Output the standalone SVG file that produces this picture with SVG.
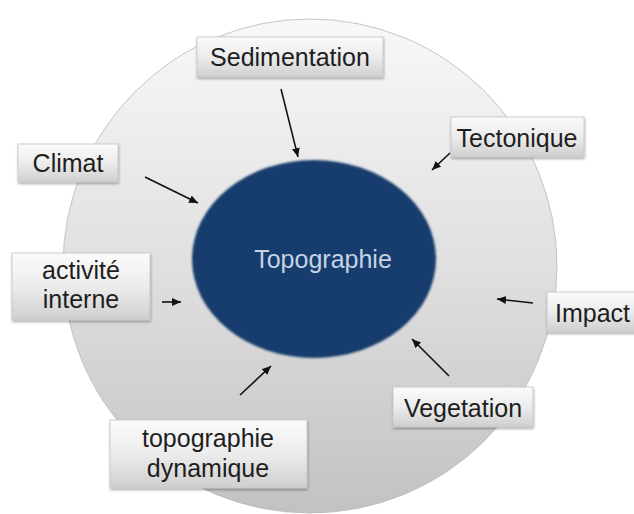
<svg xmlns="http://www.w3.org/2000/svg" width="634" height="514" viewBox="0 0 634 514">
  <defs>
    <linearGradient id="bg" x1="0" y1="0" x2="0" y2="1">
      <stop offset="0" stop-color="#f8f8f8"/>
      <stop offset="0.5" stop-color="#e0e0e0"/>
      <stop offset="1" stop-color="#c2c2c2"/>
    </linearGradient>
    <linearGradient id="boxg" x1="0" y1="0" x2="0" y2="1">
      <stop offset="0" stop-color="#fbfbfb"/>
      <stop offset="0.5" stop-color="#ececec"/>
      <stop offset="1" stop-color="#cfcfcf"/>
    </linearGradient>
    <filter id="sh" x="-10%" y="-20%" width="130%" height="150%">
      <feDropShadow dx="0.5" dy="1.5" stdDeviation="1.2" flood-color="#000" flood-opacity="0.35"/>
    </filter>
    <filter id="soft" x="-5%" y="-5%" width="110%" height="110%">
      <feGaussianBlur stdDeviation="0.8"/>
    </filter>
    <marker id="ah" markerUnits="userSpaceOnUse" markerWidth="10" markerHeight="8" refX="9" refY="4" orient="auto">
      <path d="M0,0 L9,4 L0,8 Z" fill="#111"/>
    </marker>
  </defs>
  <style>
    .box { fill: url(#boxg); stroke: #c4c4c4; stroke-width: 0.8; filter: url(#sh); }
    .lbl { font-family: "Liberation Sans", Arial, Helvetica, sans-serif; font-size: 25px; fill: #1e1e1e; text-anchor: middle; }
    .arr { stroke: #111; stroke-width: 1.6; fill: none; marker-end: url(#ah); }
  </style>

  <g id="background">
    <circle cx="310" cy="266" r="247" fill="url(#bg)" stroke="#b9b9b9" stroke-width="0.8"/>
  </g>

  <g id="topographie">
    <ellipse cx="314" cy="259" rx="122" ry="99" fill="#163c6d" filter="url(#soft)"/>
    <text x="323" y="268" font-family="'Liberation Sans', Arial, Helvetica, sans-serif" font-size="25" fill="#c6d3e4" text-anchor="middle">Topographie</text>
  </g>

  <g id="connectors">
    <line class="arr" x1="281" y1="89" x2="298" y2="157"/>
    <line class="arr" x1="145" y1="177" x2="198" y2="203"/>
    <line class="arr" x1="162" y1="302" x2="181" y2="302"/>
    <line class="arr" x1="450" y1="153" x2="432" y2="170"/>
    <line class="arr" x1="533" y1="303" x2="497" y2="299"/>
    <line class="arr" x1="449" y1="376" x2="412" y2="339"/>
    <line class="arr" x1="240" y1="395" x2="271" y2="366"/>
  </g>

  <g id="sedimentation">
    <rect class="box" x="197" y="37" width="186" height="40"/>
    <text class="lbl" x="290" y="66">Sedimentation</text>
  </g>

  <g id="climat">
    <rect class="box" x="18" y="144" width="100" height="38"/>
    <text class="lbl" x="68" y="172">Climat</text>
  </g>

  <g id="activite">
    <rect class="box" x="12" y="253" width="138" height="67"/>
    <text class="lbl" x="81" y="279">activité</text>
    <text class="lbl" x="81" y="308">interne</text>
  </g>

  <g id="tectonique">
    <rect class="box" x="451" y="117" width="133" height="40"/>
    <text class="lbl" x="517" y="147">Tectonique</text>
  </g>

  <g id="impact">
    <rect class="box" x="547" y="292" width="110" height="40"/>
    <text class="lbl" x="555" y="322" style="text-anchor:start">Impact</text>
  </g>

  <g id="vegetation">
    <rect class="box" x="393" y="387" width="140" height="40"/>
    <text class="lbl" x="463" y="417">Vegetation</text>
  </g>

  <g id="topodyn">
    <rect class="box" x="110" y="420" width="197" height="68"/>
    <text class="lbl" x="208" y="447">topographie</text>
    <text class="lbl" x="208" y="477">dynamique</text>
  </g>
</svg>
